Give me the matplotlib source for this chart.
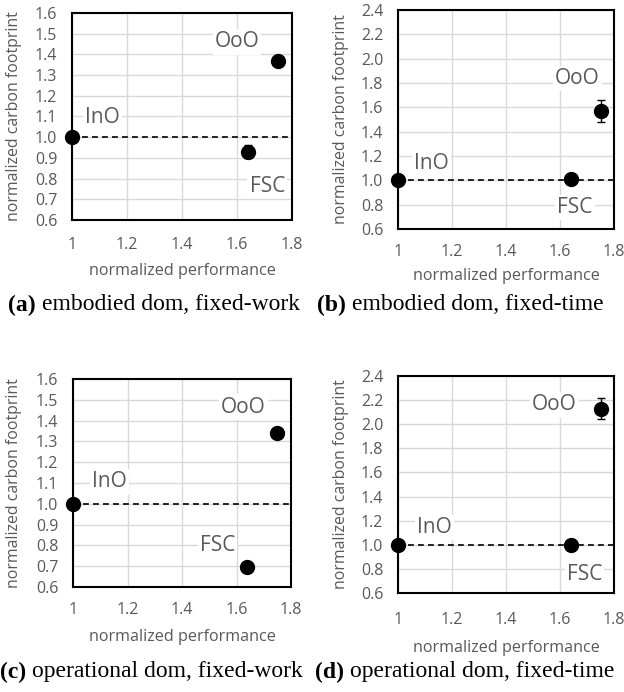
import matplotlib.pyplot as plt
import numpy as np

plt.rcParams['font.family'] = ['Open Sans', 'DejaVu Sans']

W, H = 624, 692

# data per panel: (x, y, yerr) for InO, OoO, FSC
names = ["InO", "OoO", "FSC"]
perf = [1.0, 1.75, 1.64]

carbon_a = [1.0, 1.37, 0.93]
err_a = [0.0, 0.01, 0.03]
carbon_b = [1.0, 1.57, 1.01]
err_b = [0.0, 0.09, 0.01]
carbon_c = [1.0, 1.34, 0.695]
err_c = [0.0, 0.01, 0.025]
carbon_d = [1.0, 2.13, 1.0]
err_d = [0.0, 0.09, 0.01]

# label anchor positions (data coords)
lab_a = [(1.11, 1.095), (1.60, 1.46), (1.71, 0.76)]
lab_b = [(1.125, 1.14), (1.665, 1.84), (1.655, 0.78)]
lab_c = [(1.135, 1.105), (1.625, 1.465), (1.53, 0.80)]
lab_d = [(1.135, 1.14), (1.58, 2.16), (1.69, 0.75)]

captions = [("(a)", "embodied dom, fixed-work"),
            ("(b)", "embodied dom, fixed-time"),
            ("(c)", "operational dom, fixed-work"),
            ("(d)", "operational dom, fixed-time")]

xticks = [1, 1.2, 1.4, 1.6, 1.8]
xtick_labels = ["1", "1.2", "1.4", "1.6", "1.8"]
yticks_small = np.round(np.arange(0.6, 1.61, 0.1), 1)
yticks_big = np.round(np.arange(0.6, 2.41, 0.2), 1)

gray = "#595959"

fig = plt.figure(figsize=(W / 100, H / 100), dpi=100)


def px_axes(left, top, right, bottom):
    return fig.add_axes([left / W, 1 - bottom / H, (right - left) / W, (bottom - top) / H])


def draw(ax, carbon, err, labs, yticks, ylim, xpad, ylx, xly):
    ax.set_xlim(1, 1.8)
    ax.set_ylim(*ylim)
    ax.set_xticks(xticks)
    ax.set_xticklabels(xtick_labels)
    ax.set_yticks(yticks)
    ax.set_yticklabels([f"{v:.1f}" for v in yticks])
    ax.grid(True, color="#d9d9d9", linewidth=1)
    ax.set_axisbelow(True)
    ax.tick_params(length=0, labelsize=11.5, labelcolor=gray)
    ax.tick_params(axis="x", pad=xpad)
    ax.tick_params(axis="y", pad=10.5)
    for s in ax.spines.values():
        s.set_linewidth(1.5)
        s.set_color("black")
    ax.axhline(1.0, color="black", linewidth=1.2, linestyle=(0, (3.5, 2.5)), zorder=2)
    ax.errorbar(perf, carbon, yerr=err, fmt="o", color="black", markersize=10,
                ecolor="black", elinewidth=1, capsize=3, capthick=1, zorder=5, clip_on=False)
    for n, (lx, ly) in zip(names, labs):
        ax.text(lx, ly, n, fontsize=15, color=gray, ha="center", va="center",
                bbox=dict(facecolor="white", edgecolor="none", pad=1.5), zorder=4)
    ax.set_xlabel("normalized performance", fontsize=11.6, color=gray)
    ax.set_ylabel("normalized carbon footprint", fontsize=11.4, color=gray)
    ax.yaxis.set_label_coords(ylx, 0.5)
    ax.xaxis.set_label_coords(0.5, xly)


ax_a = px_axes(72, 13, 292, 220)
draw(ax_a, carbon_a, err_a, lab_a, yticks_small, (0.6, 1.6), 12, -0.227, -0.208)
ax_b = px_axes(398, 10, 614, 229)
draw(ax_b, carbon_b, err_b, lab_b, yticks_big, (0.6, 2.4), 11, -0.227, -0.178)
ax_c = px_axes(73, 379, 291, 587)
draw(ax_c, carbon_c, err_c, lab_c, yticks_small, (0.6, 1.6), 11, -0.234, -0.202)
ax_d = px_axes(398, 376, 614, 593)
draw(ax_d, carbon_d, err_d, lab_d, yticks_big, (0.6, 2.4), 14, -0.227, -0.217)

cap_pos = [(8, 305), (317, 305), (0, 672), (315, 672)]
for (tag, txt), (cx, cy) in zip(captions, cap_pos):
    t = fig.text(cx / W, 1 - cy / H, tag + " ", fontsize=17, fontweight="bold",
                 family="Liberation Serif", va="center", ha="left")
    fig.canvas.draw()
    bb = t.get_window_extent()
    fig.text(bb.x1 / W, 1 - cy / H, txt, fontsize=17, family="Liberation Serif",
             va="center", ha="left")

fig.savefig("out.png", dpi=100)
